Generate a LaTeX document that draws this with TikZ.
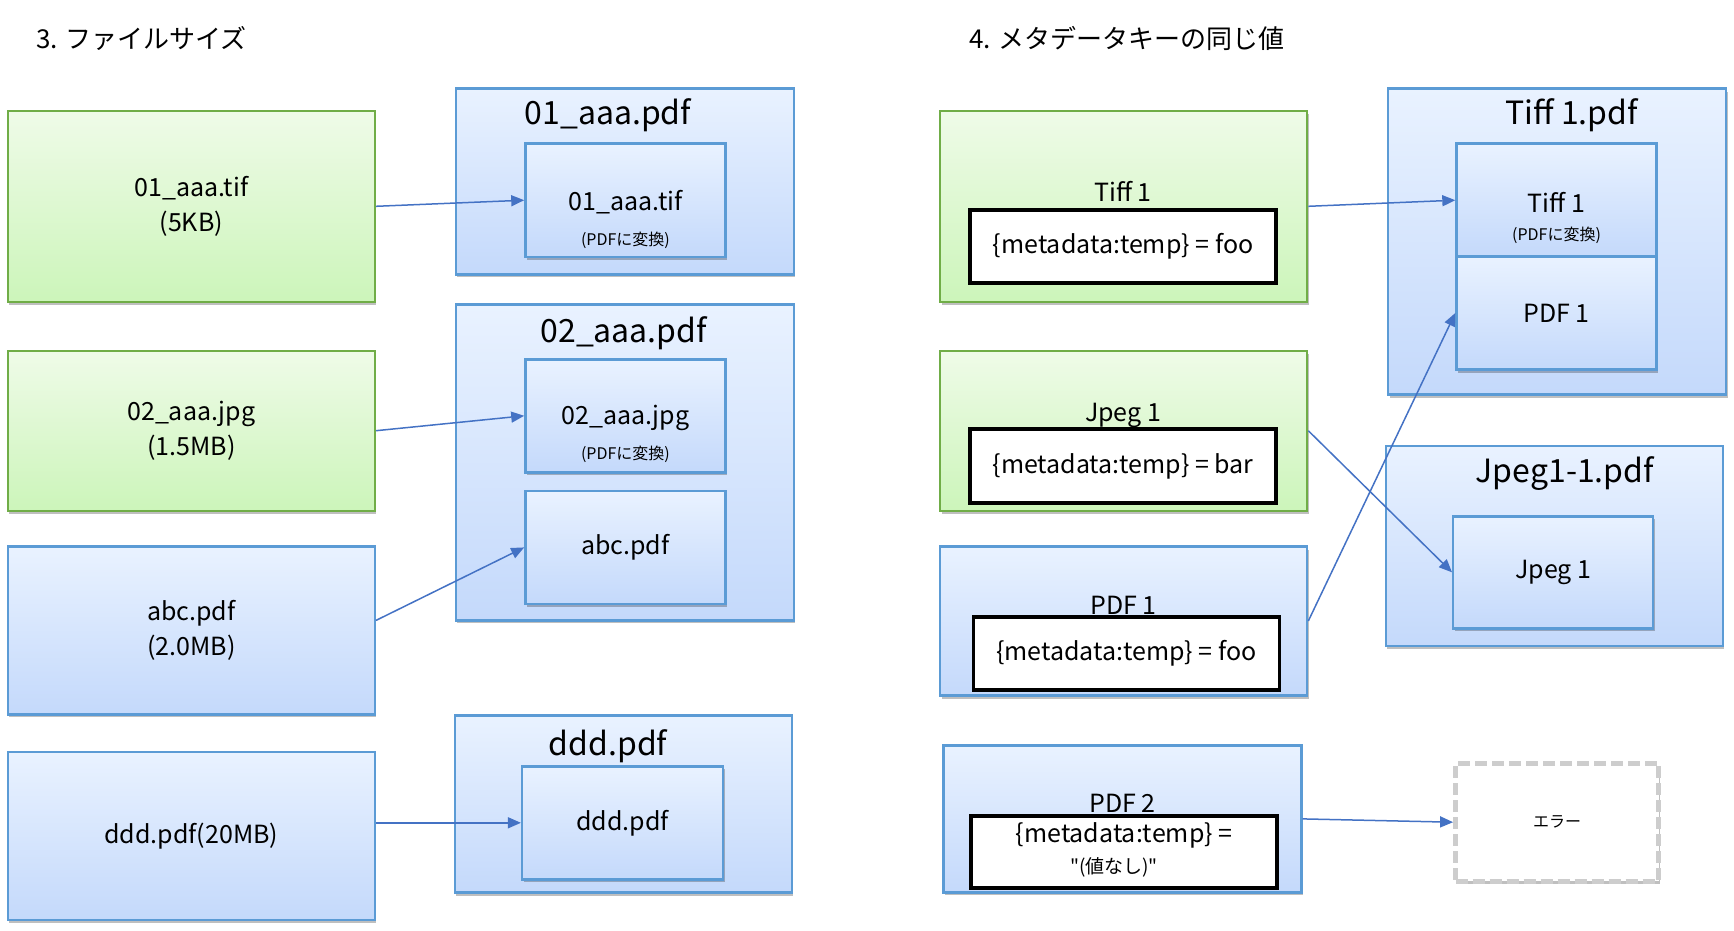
\documentclass[tikz,border=0pt]{standalone}
\usepackage{fontspec}
\setmainfont{Noto Sans CJK JP}
\usepackage{tikz}
\usetikzlibrary{positioning}
\usetikzlibrary{calc,shadows}
\usetikzlibrary{arrows.meta}
\definecolor{grnline}{RGB}{112,173,71}
\definecolor{grntop}{RGB}{239,251,232}
\definecolor{grnbot}{RGB}{204,245,186}
\definecolor{bluline}{RGB}{91,155,213}
\definecolor{blutop}{RGB}{233,242,255}
\definecolor{blubot}{RGB}{196,217,251}
\definecolor{arrcol}{RGB}{68,114,196}
\definecolor{errcol}{RGB}{205,205,205}
\newcommand\fsSec{\fontsize{26}{30}\selectfont}
\newcommand\fsHead{\fontsize{32}{38}\selectfont}
\newcommand\fsLab{\fontsize{25}{35}\selectfont}
\newcommand\fsNote{\fontsize{16}{20}\selectfont}
\newcommand\fsQuote{\fontsize{19}{23}\selectfont}
\tikzstyle{link}=[-{Triangle[length=13pt,width=11pt]},arrcol,line width=1.5pt]
\tikzset{
  boxshadow/.style={drop shadow={shadow xshift=1.5pt,shadow yshift=-3pt,opacity=0.25,fill=black}},
  greenbox/.style={draw=grnline,line width=2.4pt,top color=grntop,bottom color=grnbot,
    boxshadow,inner sep=0pt,align=center,font=\fsLab},
  bluebox/.style={draw=bluline,line width=2.4pt,top color=blutop,bottom color=blubot,
    boxshadow,inner sep=0pt,align=center,font=\fsLab},
  keybox/.style={draw=black,line width=3.6pt,fill=white,inner sep=0pt,
    minimum width=306pt,minimum height=73pt,font=\fsLab},
  errbox/.style={draw=errcol,line width=5pt,dash pattern=on 12pt off 5pt,fill=white,
    boxshadow,inner sep=0pt,font=\fsNote},
  headtxt/.style={font=\fsHead,inner sep=0pt},
  labtxt/.style={font=\fsLab,inner sep=0pt},
  notetxt/.style={font=\fsNote,inner sep=0pt}
}

\begin{document}
\begin{tikzpicture}[x=1pt,y=-1pt]
    \useasboundingbox (0,0) rectangle (1734,931);

    % section titles
    \node (sec3) [anchor=west,font=\fsSec,inner sep=0pt] at (36,38) {3. ファイルサイズ};
    \node (sec4) [anchor=west,font=\fsSec,inner sep=0pt] at (969,38) {4. メタデータキーの同じ値};

    % 3. file size : source files
    \node (tifsrc) [greenbox,minimum width=367pt,minimum height=191pt] at (191.3,206.3) {01\_aaa.tif\\(5KB)};
    \node (jpgsrc) [greenbox,minimum width=367pt,minimum height=160pt] at (191.3,430.7) {02\_aaa.jpg\\(1.5MB)};
    \node (abcsrc) [bluebox,minimum width=367pt,minimum height=168pt] at (191.3,630.4) {abc.pdf\\(2.0MB)};
    \node (dddsrc) [bluebox,minimum width=367pt,minimum height=168pt] at (191.3,836) {ddd.pdf(20MB)};

    % 3. file size : output pdfs
    \node (tifpdf) [bluebox,minimum width=338pt,minimum height=186pt] at (624.8,181.4) {};
    \node (tifpdf-t) [headtxt] at (608,115) {01\_aaa.pdf};
    \node (tifin) [bluebox,minimum width=200pt,minimum height=113pt] at (625.4,200.2) {};
    \node (tifin-t) [labtxt] at (625.4,202) {01\_aaa.tif};
    \node (tifin-n) [notetxt] at (625.4,240) {(PDFに変換)};

    \node (jpgpdf) [bluebox,minimum width=338pt,minimum height=316pt] at (624.8,462.3) {};
    \node (jpgpdf-t) [headtxt] at (623.7,333) {02\_aaa.pdf};
    \node (jpgin) [bluebox,minimum width=200pt,minimum height=113pt] at (625.4,415.8) {};
    \node (jpgin-t) [labtxt] at (625.4,418) {02\_aaa.jpg};
    \node (jpgin-n) [notetxt] at (625.4,454.5) {(PDFに変換)};
    \node (abcin) [bluebox,minimum width=200pt,minimum height=113pt] at (625.4,547.4) {abc.pdf};

    \node (dddpdf) [bluebox,minimum width=337pt,minimum height=177pt] at (623.2,804) {};
    \node (dddpdf-t) [headtxt] at (608,746.5) {ddd.pdf};
    \node (dddin) [bluebox,minimum width=201pt,minimum height=113pt] at (622.6,822.8) {ddd.pdf};

    % 4. same metadata key : sources
    \node (tiffsrc) [greenbox,minimum width=367pt,minimum height=191pt] at (1123.6,206.3) {};
    \node (tiffkey) [keybox] at (1123.1,246.6) {\{metadata:temp\} = foo};
    \node (tiffsrc-t) [labtxt] at (1123.1,191.3) {Tiff 1};

    \node (jpegsrc) [greenbox,minimum width=367pt,minimum height=160pt] at (1123.6,430.7) {};
    \node (jpegkey) [keybox,minimum height=74pt] at (1123.1,466.1) {\{metadata:temp\} = bar};
    \node (jpegsrc-t) [labtxt] at (1123.1,415.8) {Jpeg 1};

    \node (pdf1src) [bluebox,minimum width=367pt,minimum height=149pt] at (1123.6,621) {};
    \node (pdf1key) [keybox] at (1126.3,653.6) {\{metadata:temp\} = foo};
    \node (pdf1src-t) [labtxt] at (1123.6,605) {PDF 1};

    \node (pdf2src) [bluebox,minimum width=358pt,minimum height=147pt] at (1122.5,818.9) {};
    \node (pdf2key) [keybox,minimum height=72pt] at (1124.1,852.1) {};
    \node (pdf2key-a) [labtxt] at (1124.1,835) {\{metadata:temp\} =};
    \node (pdf2key-b) [font=\fsQuote,inner sep=0pt] at (1114,867) {\textquotedbl(値なし)\textquotedbl};
    \node (pdf2src-t) [labtxt] at (1122.5,802.9) {PDF 2};

    % 4. same metadata key : outputs
    \node (tiffpdf) [bluebox,minimum width=338pt,minimum height=306pt] at (1557.1,241.6) {};
    \node (tiffpdf-t) [headtxt] at (1571.5,115) {Tiff 1.pdf};
    \node (tiffin) [bluebox,minimum width=200pt,minimum height=113pt] at (1556.5,200.2) {};
    \node (tiffin-t) [labtxt] at (1556.5,202) {Tiff 1};
    \node (tiffin-n) [notetxt] at (1556.5,235.6) {(PDFに変換)};
    \node (pdf1in) [bluebox,minimum width=200pt,minimum height=113pt] at (1556.5,313) {PDF 1};

    \node (jpegpdf) [bluebox,minimum width=337pt,minimum height=200pt] at (1554.3,545.7) {};
    \node (jpegpdf-t) [headtxt] at (1564.8,473.3) {Jpeg1-1.pdf};
    \node (jpegin) [bluebox,minimum width=200pt,minimum height=112pt] at (1553.2,572.3) {Jpeg 1};

    \node (errbox) [errbox,minimum width=203pt,minimum height=118pt] at (1557.1,822.2) {エラー};

    % connectors
    \draw[link] (tifsrc.east) -- (tifin.west);
    \draw[link] (jpgsrc.east) -- (jpgin.west);
    \draw[link] ($(abcsrc.east)+(0,-10)$) -- (abcin.west);
    \draw[link] (dddsrc.east |- dddin.west) -- (dddin.west);
    \draw[link] (tiffsrc.east) -- (tiffin.west);
    \draw[link] (jpegsrc.east) -- (jpegin.west);
    \draw[link] (pdf1src.east) -- (pdf1in.west);
    \draw[link] (pdf2src.east) -- (errbox.west);
\end{tikzpicture}
\end{document}
